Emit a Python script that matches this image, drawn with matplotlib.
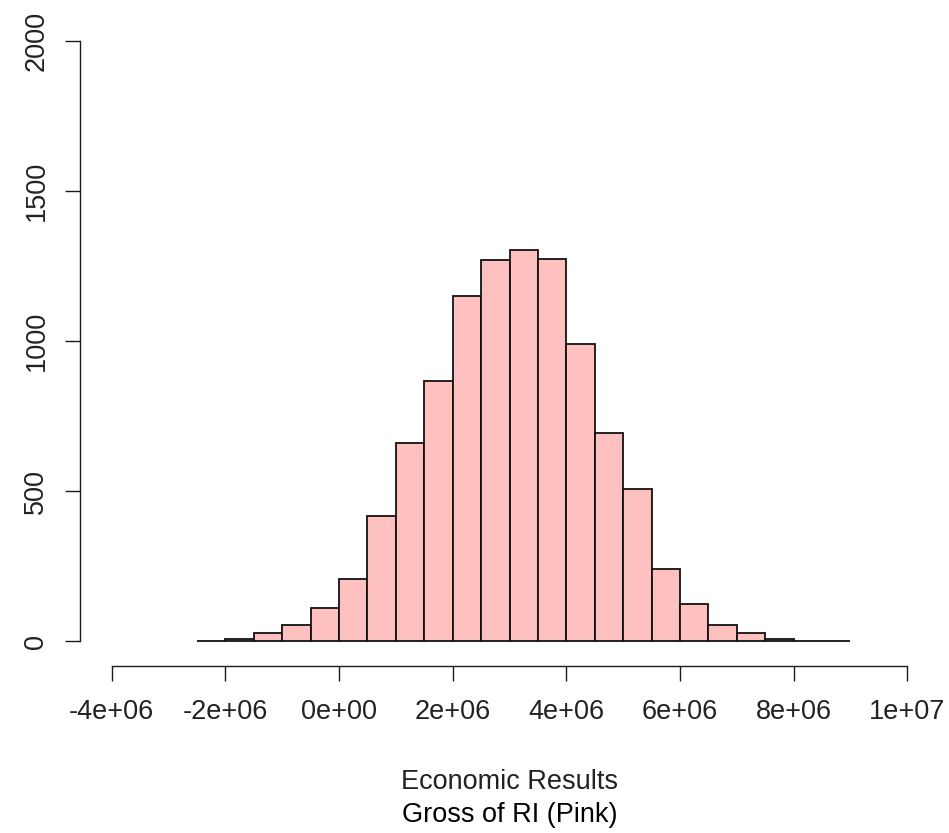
import matplotlib
matplotlib.use('Agg')
import matplotlib.pyplot as plt

plt.rcParams['font.family'] = ['Liberation Sans', 'DejaVu Sans']

# histogram bins (left edges) and counts
bin_lefts = [-2.5e6, -2.0e6, -1.5e6, -1.0e6, -0.5e6, 0.0, 0.5e6, 1.0e6,
             1.5e6, 2.0e6, 2.5e6, 3.0e6, 3.5e6, 4.0e6, 4.5e6, 5.0e6,
             5.5e6, 6.0e6, 6.5e6, 7.0e6, 7.5e6, 8.0e6, 8.5e6]
counts = [3, 9, 28, 56, 112, 209, 417, 661, 866, 1151, 1272, 1305,
          1273, 991, 696, 507, 242, 124, 54, 27, 9, 3, 1]
bin_width = 0.5e6

x_ticks = [-4e6, -2e6, 0, 2e6, 4e6, 6e6, 8e6, 1e7]
x_labels = ['-4e+06', '-2e+06', '0e+00', '2e+06', '4e+06', '6e+06', '8e+06', '1e+07']
y_ticks = [0, 500, 1000, 1500, 2000]

W, H = 949, 833
fig = plt.figure(figsize=(W / 100, H / 100), dpi=100)
ax = fig.add_axes([80 / W, (H - 665.5) / H, 859 / W, (665.5 - 17) / H])

ax.bar(bin_lefts, counts, width=bin_width, align='edge',
       color='#FFC0C0', edgecolor='#111111', linewidth=1.3)

# R style axes: 4% padding, axis lines only span the ticks
ax.set_xlim(-4.56e6, 10.56e6)
ax.set_ylim(-80, 2080)
for s in ['top', 'right']:
    ax.spines[s].set_visible(False)
ax.spines['left'].set_bounds(0, 2000)
ax.spines['bottom'].set_bounds(-4e6, 1e7)
for s in ['left', 'bottom']:
    ax.spines[s].set_linewidth(1.0)
    ax.spines[s].set_color('#1a1a1a')

ax.set_xticks(x_ticks)
ax.set_xticklabels(x_labels)
ax.set_yticks(y_ticks)
ax.set_yticklabels([str(v) for v in y_ticks], rotation=90, va='center')
ax.tick_params(axis='both', direction='out', length=11, width=1.0,
               color='#1a1a1a', labelsize=19.5, labelcolor='#222222')
ax.tick_params(axis='x', pad=13)
ax.tick_params(axis='y', pad=11)

fig.text(0.5 * (80 + 939) / W, 1 - 782 / H, 'Economic Results',
         ha='center', va='center', fontsize=19.5, color='#222222')
fig.text(0.5 * (80 + 939) / W, 1 - 815 / H, 'Gross of RI (Pink)',
         ha='center', va='center', fontsize=19.5, color='black')

plt.savefig('out.png', dpi=100)
